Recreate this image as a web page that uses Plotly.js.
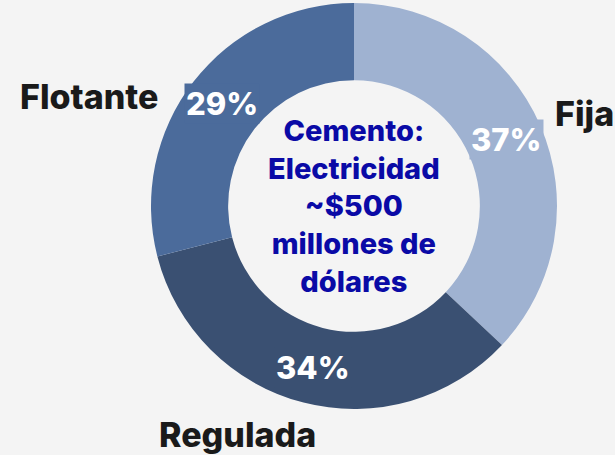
<!DOCTYPE html>
<html><head><meta charset="utf-8">
<script src="https://cdn.plot.ly/plotly-3.0.1.min.js"></script>
<style>html,body{margin:0;padding:0;background:#f4f4f4;}#chart{width:615px;height:455px;}</style>
</head><body><div id="chart"></div>
<script>
const labels = ['Fija', 'Regulada', 'Flotante'];
const values = [37, 34, 29];
const colors = ['#9fb2d1', '#3a5072', '#4b6b9b'];
const centerText = 'Cemento:<br>Electricidad<br>~$500<br>millones de<br>dólares';

const W = 615, H = 455;
const cx = 354, cy = 206, R = 203, holeFrac = 0.62;
const FONT = 'Inter, "Open Sans", sans-serif';

const total = values.reduce((a, b) => a + b, 0);
const annotations = [];
let cum = 0;
const rText = R * (1 + holeFrac) / 2 + 2;
values.forEach((v, i) => {
  const mid = (cum + v / 2) / total * 2 * Math.PI;
  cum += v;
  const px = cx + rText * Math.sin(mid);
  const py = cy - rText * Math.cos(mid);
  annotations.push({
    x: px / W, y: 1 - py / H, xref: 'paper', yref: 'paper',
    xanchor: 'center', yanchor: 'middle',
    text: Math.round(v / total * 100) + '%', showarrow: false,
    font: {family: FONT, size: 31, weight: 800, color: '#ffffff'},
    bgcolor: colors[i], borderpad: 1
  });
});

const outer = [
  {t: 'Fija', x: 553, y: 113, anchor: 'left'},
  {t: 'Regulada', x: 237, y: 434, anchor: 'center'},
  {t: 'Flotante', x: 89, y: 96, anchor: 'center'}
];
outer.forEach(o => annotations.push({
  x: o.x / W, y: 1 - o.y / H, xref: 'paper', yref: 'paper',
  xanchor: o.anchor, yanchor: 'middle',
  text: o.t, showarrow: false,
  font: {family: FONT, size: 34, weight: 800, color: '#1a1a1a'}
}));

annotations.push({
  x: cx / W, y: 1 - cy / H, xref: 'paper', yref: 'paper',
  xanchor: 'center', yanchor: 'middle',
  text: centerText, showarrow: false,
  font: {family: FONT, size: 29, weight: 800, color: '#0a0aa6'}, align: 'center'
});

const data = [{
  type: 'pie', labels: labels, values: values, hole: holeFrac,
  sort: false, direction: 'clockwise', rotation: 0,
  marker: {colors: colors, line: {width: 0}},
  textinfo: 'none', hoverinfo: 'label+percent', showlegend: false,
  domain: {x: [(cx - R) / W, (cx + R) / W], y: [1 - (cy + R) / H, 1 - (cy - R) / H]}
}];

const layout = {
  width: W, height: H, margin: {l: 0, r: 0, t: 0, b: 0},
  paper_bgcolor: '#f4f4f4', plot_bgcolor: '#f4f4f4',
  showlegend: false, annotations: annotations
};
Plotly.newPlot('chart', data, layout, {displayModeBar: false, staticPlot: true});
</script></body></html>
